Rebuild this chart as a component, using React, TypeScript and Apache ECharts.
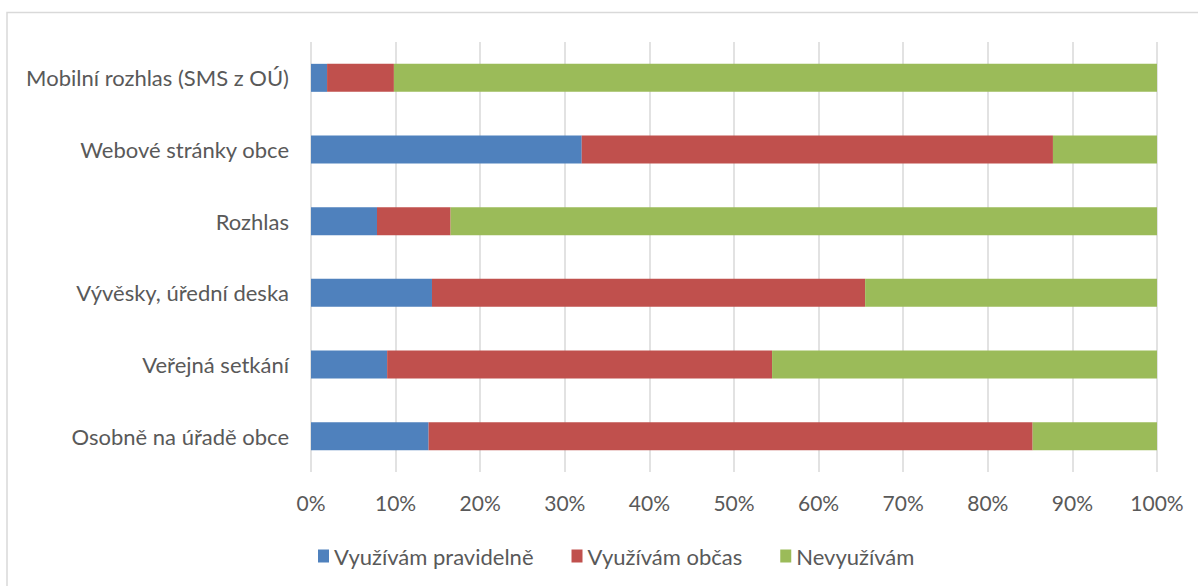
import React, { useEffect, useRef } from "react";
import * as echarts from "echarts";

const categories = [
  "Osobně na úřadě obce",
  "Veřejná setkání",
  "Vývěsky, úřední deska",
  "Rozhlas",
  "Webové stránky obce",
  "Mobilní rozhlas (SMS z OÚ)",
];
const seriesNames = ["Využívám pravidelně", "Využívám občas", "Nevyužívám"];
const pravidelne = [13.9, 9.0, 14.3, 7.8, 32.0, 1.9];
const obcas = [71.4, 45.5, 51.2, 8.7, 55.7, 7.9];
const nevyuzivam = [14.7, 45.5, 34.5, 83.5, 12.3, 90.2];
const xTicks = [0, 10, 20, 30, 40, 50, 60, 70, 80, 90, 100];
const colors = ["#4f81bd", "#c0504d", "#9bbb59"];

const FONT = "Lato, 'Open Sans', sans-serif";

export default function App() {
  const ref = useRef<HTMLDivElement>(null);
  useEffect(() => {
    if (!ref.current) return;
    const chart = echarts.init(ref.current, null, { renderer: "svg" });
    const values = [pravidelne, obcas, nevyuzivam];
    chart.setOption({
      animation: false,
      backgroundColor: "#ffffff",
      textStyle: { fontFamily: FONT },
      graphic: [
        {
          type: "rect",
          shape: { x: 7, y: 12.5, width: 1300, height: 700 },
          style: { fill: "none", stroke: "#d9d9d9", lineWidth: 1.5 },
          silent: true,
        },
      ],
      grid: { left: 311, right: 41, top: 42, bottom: 114, containLabel: false },
      legend: {
        left: 313,
        top: 540,
        itemWidth: 11,
        itemHeight: 13,
        itemGap: 38,
        icon: "rect",
        textStyle: { fontSize: 22, color: "#595959", fontFamily: FONT },
        data: seriesNames,
      },
      xAxis: {
        type: "value",
        min: xTicks[0],
        max: xTicks[xTicks.length - 1],
        interval: 10,
        axisLine: { show: false },
        axisTick: { show: false },
        splitLine: { show: true, lineStyle: { color: "#d9d9d9", width: 1.5 } },
        axisLabel: {
          formatter: "{value}%",
          fontSize: 21,
          color: "#595959",
          margin: 20,
          fontFamily: FONT,
        },
      },
      yAxis: {
        type: "category",
        data: categories,
        axisLine: { show: false },
        axisTick: { show: false },
        axisLabel: { fontSize: 22, color: "#595959", margin: 22, fontFamily: FONT },
      },
      series: seriesNames.map((name, i) => ({
        name,
        type: "bar",
        stack: "total",
        barWidth: 28,
        data: values[i],
        itemStyle: { color: colors[i] },
      })),
    });
    return () => chart.dispose();
  }, []);
  return (
    <div
      ref={ref}
      style={{ position: "absolute", left: 0, top: 0, width: 1198, height: 586 }}
    />
  );
}
